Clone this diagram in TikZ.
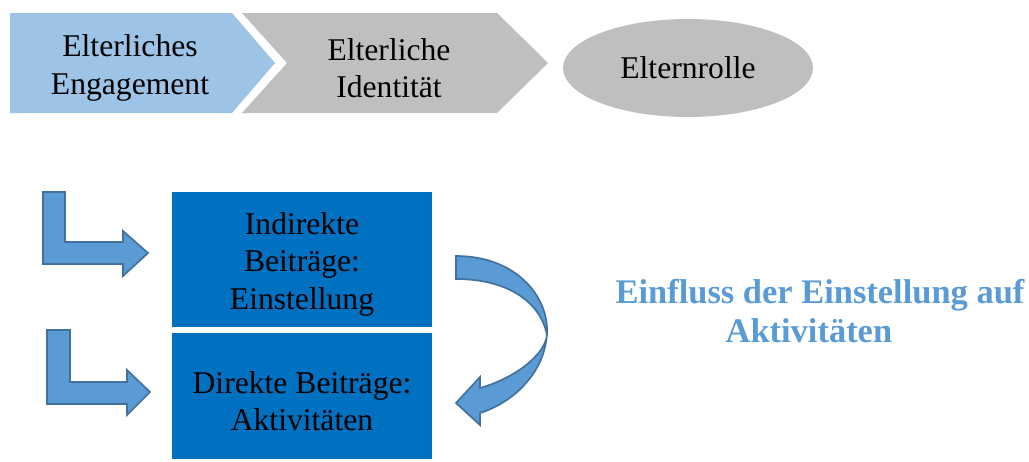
\documentclass[tikz,border=0pt]{standalone}
\usepackage{fontspec}
\setmainfont{Liberation Serif}
\usepackage{xcolor}
\definecolor{pale-blue}{HTML}{9DC3E6}
\definecolor{pale-grey}{HTML}{BFBFBF}
\definecolor{box-blue}{HTML}{0070C0}
\definecolor{arr-blue}{HTML}{5B9BD5}
\definecolor{arr-edge}{HTML}{41719C}
\usetikzlibrary{shapes.geometric}
\tikzset{lbl/.style = {align=center, text centered, font=\fontsize{22.5}{26.5}\selectfont}}
\tikzset{box/.style = {lbl, fill=box-blue, minimum width=6.5cm, inner sep=0pt}}
\tikzset{barr/.style = {fill=arr-blue, draw=arr-edge, line width=1.2pt, line join=miter}}

\begin{document}
\begin{tikzpicture}[x=0.025cm, y=-0.025cm]
\useasboundingbox (0,0) rectangle (1029,461);

% top row
\fill[pale-blue] (10,13) -- (232,13) -- (275,63) -- (232,113) -- (10,113) -- cycle;
\fill[pale-grey] (242,13) -- (497,13) -- (548,63) -- (497,113) -- (242,113) -- (287,63) -- cycle;
\node[lbl] (t1) at (130,68) {Elterliches\\Engagement};
\node[lbl] (t2) at (389,68) {Elterliche\\Identität};
\node[lbl, ellipse, fill=pale-grey, minimum width=6.25cm, minimum height=2.45cm] (t3) at (688,68) {Elternrolle};

% boxes
\node[box, minimum height=3.375cm] (b1) at (302,259.5) {\\[-4pt]Indirekte\\Beiträge:\\Einstellung};
\node[box, minimum height=3.15cm] (b2) at (302,396) {\\[-4pt]Direkte Beiträge:\\Aktivitäten};

% bent arrows
\draw[barr] (43,192) -- (65,192) -- (65,242) -- (123,242) -- (123,231) -- (148,253)
  -- (123,276) -- (123,264) -- (43,264) -- cycle;
\draw[barr] (47,330) -- (70,330) -- (70,382) -- (127,382) -- (127,370) -- (150,392)
  -- (127,415) -- (127,404) -- (47,404) -- cycle;

% curved arrow
\draw[barr] (456,256) .. controls (515,256) and (547,295) .. (547,330)
  .. controls (547,370) and (515,402) .. (480,413) -- (480,425) -- (456,403)
  -- (480,377) -- (480,388) .. controls (515,378) and (545,355) .. (547,335)
  .. controls (540,300) and (505,279) .. (456,279) -- cycle;

\node[align=left, text=arr-blue, font=\fontsize{24.5}{27.5}\selectfont\bfseries] (n1) at (820,311)
  {Einfluss der Einstellung auf\\\hspace*{2.75cm}Aktivitäten};

\end{tikzpicture}
\end{document}
